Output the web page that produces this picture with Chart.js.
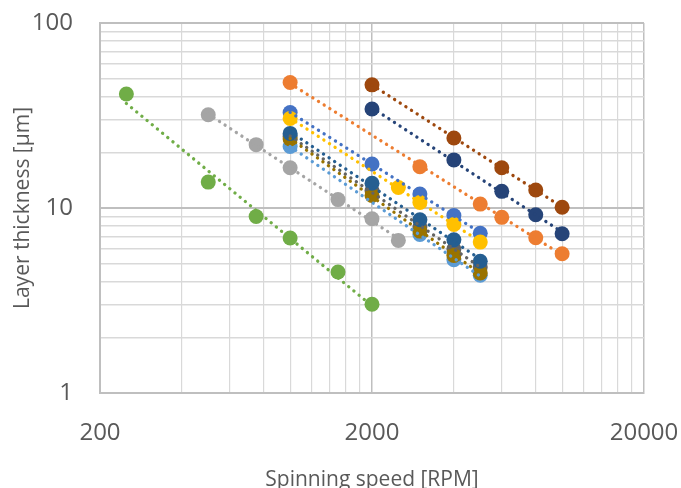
<!DOCTYPE html>
<html>
<head>
<meta charset="utf-8">
<script src="https://cdn.jsdelivr.net/npm/chart.js@4.4.1/dist/chart.umd.min.js"></script>
<style>
  html, body { margin: 0; padding: 0; background: #fff; }
  #wrap { width: 681px; height: 488px; }
</style>
</head>
<body>
<div id="wrap"><canvas id="scatterChart"></canvas></div>
<script>
// spinning speed [RPM] / layer thickness [um], one pair of arrays per series
const steelX = [1000, 2000, 3000, 4000, 5000];
const steelY = [25.3, 13.6, 8.64, 6.74, 5.15];
const oliveX = [1000, 2000, 3000, 4000, 5000];
const oliveY = [23.6, 11.7, 7.5, 5.54, 4.45];
const darkGrayX = [1000, 2000, 3000, 4000, 5000];
const darkGrayY = [24.3, 12.4, 7.9, 6.0, 4.8];
const brownX = [2000, 4000, 6000, 8000, 10000];
const brownY = [46.3, 23.9, 16.5, 12.5, 10.1];
const navyX = [2000, 4000, 6000, 8000, 10000];
const navyY = [34.3, 18.2, 12.3, 9.2, 7.26];
const greenX = [250, 500, 750, 1000, 1500, 2000];
const greenY = [41.3, 13.8, 9.0, 6.88, 4.51, 3.02];
const lightBlueX = [1000, 3000, 4000, 5000];
const lightBlueY = [21.5, 7.2, 5.25, 4.33];
const goldX = [1000, 2500, 3000, 4000, 5000];
const goldY = [30.5, 12.9, 10.7, 8.15, 6.54];
const grayX = [500, 750, 1000, 1500, 2000, 2500];
const grayY = [31.9, 22.0, 16.5, 11.1, 8.75, 6.68];
const orangeX = [1000, 3000, 5000, 6000, 8000, 10000];
const orangeY = [47.7, 16.7, 10.5, 8.9, 6.9, 5.66];
const blueX = [1000, 2000, 3000, 4000, 5000];
const blueY = [32.8, 17.3, 11.9, 9.1, 7.3];

const xTicks = [200, 400, 600, 800, 1000, 1200, 1400, 1600, 1800, 2000,
                4000, 6000, 8000, 10000, 12000, 14000, 16000, 18000, 20000];
const xLabels = [200, 2000, 20000];
const yTicks = [1, 2, 3, 4, 5, 6, 7, 8, 9, 10, 20, 30, 40, 50, 60, 70, 80, 90, 100];
const yLabels = [1, 10, 100];

// topmost first (Chart.js draws dataset 0 last)
const series = [
    { x: steelX, y: steelY, color: '#255E91' },
    { x: oliveX, y: oliveY, color: '#997300' },
    { x: darkGrayX, y: darkGrayY, color: '#636363' },
    { x: brownX, y: brownY, color: '#9E480E' },
    { x: navyX, y: navyY, color: '#264478' },
    { x: greenX, y: greenY, color: '#70AD47' },
    { x: lightBlueX, y: lightBlueY, color: '#5B9BD5' },
    { x: goldX, y: goldY, color: '#FFC000' },
    { x: grayX, y: grayY, color: '#A5A5A5' },
    { x: orangeX, y: orangeY, color: '#ED7D31' },
    { x: blueX, y: blueY, color: '#4472C4' }
];

// power trendline (least squares in log-log), like Excel
function powerFit(xs, ys) {
    const lx = xs.map(Math.log10), ly = ys.map(Math.log10);
    const n = lx.length;
    const mx = lx.reduce((a, b) => a + b, 0) / n;
    const my = ly.reduce((a, b) => a + b, 0) / n;
    let sxy = 0, sxx = 0;
    for (let i = 0; i < n; i++) {
        sxy += (lx[i] - mx) * (ly[i] - my);
        sxx += (lx[i] - mx) * (lx[i] - mx);
    }
    const b = sxy / sxx, a = my - b * mx;
    const x0 = Math.min(...xs), x1 = Math.max(...xs);
    return [x0, x1].map(x => ({ x: x, y: Math.pow(10, a + b * Math.log10(x)) }));
}

const trendSets = series.map(s => ({
    data: powerFit(s.x, s.y),
    showLine: true,
    borderColor: s.color,
    borderWidth: 3.3,
    borderDash: [0.1, 6.6],
    borderCapStyle: 'round',
    pointRadius: 0,
    fill: false
}));

const markerSets = series.map(s => ({
    data: s.x.map((x, i) => ({ x: x, y: s.y[i] })),
    backgroundColor: s.color,
    borderWidth: 0,
    pointRadius: 7.5,
    pointHoverRadius: 7.5
}));

const textColor = '#595959';
const fontFamily = '"Open Sans", "Liberation Sans", sans-serif';

// drop the label overhang padding so the plot area follows layout.padding
function noOverhang(scale) {
    scale.paddingTop = 0;
    scale.paddingBottom = 0;
    scale.paddingLeft = 0;
    scale.paddingRight = 0;
}

const ctx = document.getElementById('scatterChart').getContext('2d');
const scatterChart = new Chart(ctx, {
    type: 'scatter',
    data: { datasets: trendSets.concat(markerSets) },
    options: {
        responsive: true,
        maintainAspectRatio: false,
        animation: false,
        layout: { padding: { top: 23, right: 37, left: 0, bottom: 0 } },
        plugins: { legend: { display: false }, tooltip: { enabled: false } },
        scales: {
            x: {
                type: 'logarithmic',
                min: 200,
                max: 20000,
                afterBuildTicks: scale => { scale.ticks = xTicks.map(v => ({ value: v })); },
                afterFit: scale => { scale.height = 95; noOverhang(scale); },
                ticks: {
                    autoSkip: false,
                    maxRotation: 0,
                    padding: 26,
                    color: textColor,
                    font: { family: fontFamily, size: 24 },
                    callback: v => xLabels.includes(v) ? String(v) : ''
                },
                grid: {
                    drawTicks: false,
                    color: c => xLabels.includes(c.tick.value) ? '#BFBFBF' : '#D9D9D9',
                    lineWidth: c => xLabels.includes(c.tick.value) ? 1.5 : 1.2
                },
                border: { color: '#BFBFBF', width: 2 },
                title: {
                    display: true,
                    text: 'Spinning speed [RPM]',
                    color: textColor,
                    font: { family: fontFamily, size: 21, lineHeight: 0.8 },
                    padding: 0
                }
            },
            y: {
                type: 'logarithmic',
                min: 1,
                max: 100,
                afterBuildTicks: scale => { scale.ticks = yTicks.map(v => ({ value: v })); },
                afterFit: scale => { scale.width = 100; noOverhang(scale); },
                ticks: {
                    autoSkip: false,
                    padding: 27,
                    color: textColor,
                    font: { family: fontFamily, size: 24 },
                    callback: v => yLabels.includes(v) ? String(v) : ''
                },
                grid: {
                    drawTicks: false,
                    color: c => yLabels.includes(c.tick.value) ? '#BFBFBF' : '#D9D9D9',
                    lineWidth: c => yLabels.includes(c.tick.value) ? 2 : 1.5
                },
                border: { color: '#BFBFBF', width: 2 },
                title: {
                    display: true,
                    text: 'Layer thickness [µm]',
                    color: textColor,
                    font: { family: fontFamily, size: 21, lineHeight: 1.2 },
                    padding: { top: 10, bottom: 0 }
                }
            }
        }
    }
});
</script>
</body>
</html>
